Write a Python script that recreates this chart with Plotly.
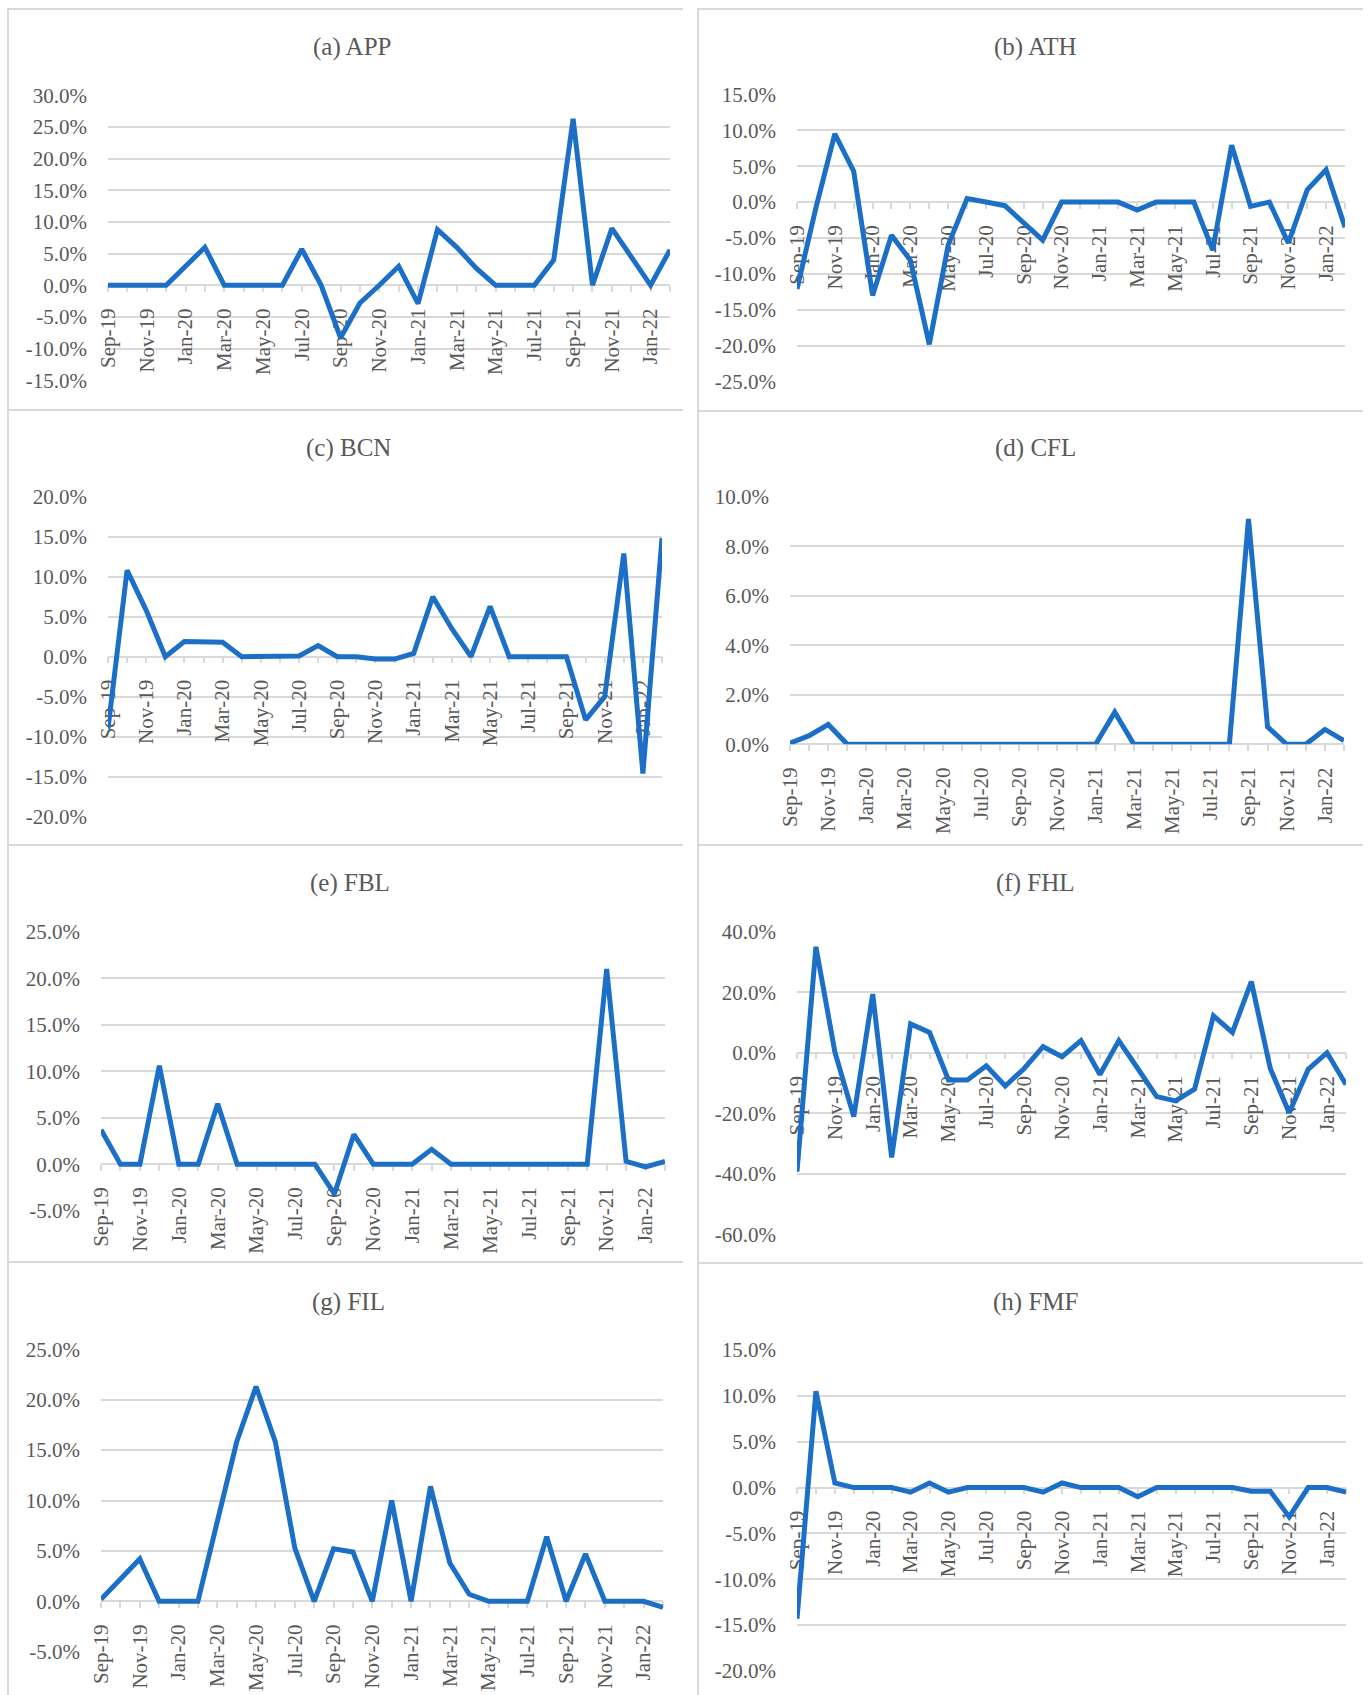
import plotly.graph_objects as go

W, H = 1368, 1695

months = ["Sep-19", "Oct-19", "Nov-19", "Dec-19", "Jan-20", "Feb-20", "Mar-20", "Apr-20",
          "May-20", "Jun-20", "Jul-20", "Aug-20", "Sep-20", "Oct-20", "Nov-20", "Dec-20",
          "Jan-21", "Feb-21", "Mar-21", "Apr-21", "May-21", "Jun-21", "Jul-21", "Aug-21",
          "Sep-21", "Oct-21", "Nov-21", "Dec-21", "Jan-22", "Feb-22"]
month_labels = [m if i % 2 == 0 else "" for i, m in enumerate(months)]

APP = [0, 0, 0, 0, 3.0, 6.0, 0, 0, 0, 0, 5.7, 0, -8.3, -2.8, 0, 3.0, -2.9, 8.8, 6.0, 2.7,
       0, 0, 0, 4.0, 26.3, 0, 9.0, 4.5, 0, 5.6]
ATH = [-12.1, -0.8, 9.5, 4.3, -13.0, -4.6, -8.1, -19.8, -6.0, 0.5, 0.0, -0.5, -2.9, -5.3,
       0, 0, 0, 0, -1.1, 0, 0, 0, -6.7, 7.9, -0.6, 0, -5.7, 1.7, 4.5, -3.5]
BCN = [-9.0, 10.8, 5.8, 0, 1.9, 1.9, 1.8, 0, 0, 0, 0.1, 1.4, 0, 0, -0.3, -0.3, 0.4, 7.5,
       3.5, 0, 6.3, 0, 0, 0, 0, -7.9, -5.0, 12.9, -14.6, 14.8]
CFL = [0.05, 0.35, 0.8, 0, 0, 0, 0, 0, 0, 0, 0, 0, 0, 0, 0, 0, 0, 1.3, 0, 0, 0, 0, 0, 0,
       9.1, 0.7, 0, 0, 0.6, 0.15]
FBL = [3.7, 0, 0, 10.6, 0, 0, 6.5, 0, 0, 0, 0, 0, -3.2, 3.2, 0, 0, 0, 1.6, 0, 0, 0, 0, 0,
       0, 0, 0, 21.0, 0.3, -0.3, 0.3]
FHL = [-39.3, 35.0, 0.3, -21.1, 19.4, -34.6, 9.5, 6.7, -9.0, -9.0, -4.3, -11.0, -5.2, 2.0,
       -1.3, 4.0, -7.2, 4.0, -5.2, -14.5, -15.9, -12.0, 12.2, 6.7, 23.5, -5.2, -19.8, -5.5,
       0, -10.5]
FIL = [0.2, 2.2, 4.2, 0, 0, 0, 7.9, 15.8, 21.3, 15.8, 5.3, 0, 5.2, 4.9, 0, 10.0, 0, 11.4,
       3.8, 0.7, 0, 0, 0, 6.4, 0, 4.7, 0, 0, 0, -0.6]
FMF = [-14.3, 10.5, 0.5, 0, 0, 0, -0.5, 0.5, -0.5, 0, 0, 0, 0, -0.5, 0.5, 0, 0, 0, -1.0,
       0, 0, 0, 0, 0, -0.4, -0.4, -3.2, 0, 0, -0.5]

titles = ["(a) APP", "(b) ATH", "(c) BCN", "(d) CFL", "(e) FBL", "(f) FHL", "(g) FIL", "(h) FMF"]
series = [APP, ATH, BCN, CFL, FBL, FHL, FIL, FMF]
yticks = [
    [-15, -10, -5, 0, 5, 10, 15, 20, 25, 30],
    [-25, -20, -15, -10, -5, 0, 5, 10, 15],
    [-20, -15, -10, -5, 0, 5, 10, 15, 20],
    [0, 2, 4, 6, 8, 10],
    [-5, 0, 5, 10, 15, 20, 25],
    [-60, -40, -20, 0, 20, 40],
    [-5, 0, 5, 10, 15, 20, 25],
    [-20, -15, -10, -5, 0, 5, 10, 15],
]

# layout boxes in pixels: x0, x1, ytop, ybottom ; title centre (x, y)
boxes = [
    (108, 670, 95.3, 380.3, 352, 47),
    (797, 1345, 94.3, 381.7, 1035, 47),
    (108, 662, 496.7, 816.7, 349, 448),
    (790, 1344, 496.7, 744.3, 1035, 448),
    (101, 665, 931.7, 1210.7, 350, 883),
    (797, 1346, 931.7, 1234.3, 1035, 883),
    (101, 663, 1349.3, 1651.7, 349, 1302),
    (797, 1346, 1350, 1671, 1035, 1302),
]

FONT = "Liberation Serif"
TXT = "#595959"
GRID = "#d9d9d9"
BLUE = "#1c6fc6"

fig = go.Figure()
annotations = []
layout_axes = {}

for k in range(8):
    x0, x1, yt, yb, tx, ty = boxes[k]
    ticks = yticks[k]
    ymin, ymax = ticks[0], ticks[-1]
    n = k + 1
    xa = "x" if n == 1 else f"x{n}"
    ya = "y" if n == 1 else f"y{n}"
    fig.add_trace(go.Scatter(
        x=months, y=series[k], mode="lines", xaxis=xa, yaxis=ya,
        line=dict(color=BLUE, width=5), showlegend=False, hoverinfo="x+y"))
    ydom = [1 - yb / H, 1 - yt / H]
    zero_px = yt + (ymax - 0) / (ymax - ymin) * (yb - yt)
    layout_axes["xaxis" if n == 1 else f"xaxis{n}"] = dict(
        domain=[x0 / W, x1 / W], anchor="free", position=1 - zero_px / H,
        type="category", categoryorder="array", categoryarray=months,
        range=[0, len(months) - 1],
        tickmode="array", tickvals=months, ticktext=month_labels,
        tickangle=-90, ticks="outside", ticklen=6, tickwidth=1.5, tickcolor=GRID,
        showline=True, linecolor=GRID, linewidth=1.5, showgrid=False,
        layer="below traces", ticklabelstandoff=8,
        tickfont=dict(family=FONT, size=21, color=TXT), fixedrange=True)
    layout_axes["yaxis" if n == 1 else f"yaxis{n}"] = dict(
        domain=ydom, anchor=xa, range=[ymin, ymax],
        tickmode="array", tickvals=ticks, ticktext=[f"{v:.1f}%" for v in ticks],
        showgrid=True, gridcolor=GRID, gridwidth=1.5, zeroline=False, showline=False,
        ticks="", ticklabelstandoff=20, layer="below traces",
        tickfont=dict(family=FONT, size=21, color=TXT), fixedrange=True)
    annotations.append(dict(
        text=titles[k], x=tx / W, y=1 - ty / H, xref="paper", yref="paper",
        xanchor="center", yanchor="middle", showarrow=False,
        font=dict(family=FONT, size=25, color=TXT)))

shapes = []
def hline(y, xa_, xb_):
    shapes.append(dict(type="line", xref="paper", yref="paper",
                       x0=xa_ / W, x1=xb_ / W, y0=1 - y / H, y1=1 - y / H,
                       line=dict(color=GRID, width=2)))
def vline(x, ya_, yb_):
    shapes.append(dict(type="line", xref="paper", yref="paper",
                       x0=x / W, x1=x / W, y0=1 - ya_ / H, y1=1 - yb_ / H,
                       line=dict(color=GRID, width=2)))

for y in [9, 410, 845, 1262]:
    hline(y, 7, 683)
for y in [9, 411, 845, 1263]:
    hline(y, 697, 1363)
vline(8, 8, 1695)
vline(698, 8, 1695)

fig.update_layout(
    width=W, height=H, margin=dict(l=0, r=0, t=0, b=0, autoexpand=False),
    paper_bgcolor="white", plot_bgcolor="white",
    annotations=annotations, shapes=shapes, **layout_axes)

fig.write_html("out.html", config={"displayModeBar": False},
               post_script="document.body.style.margin='0';")
